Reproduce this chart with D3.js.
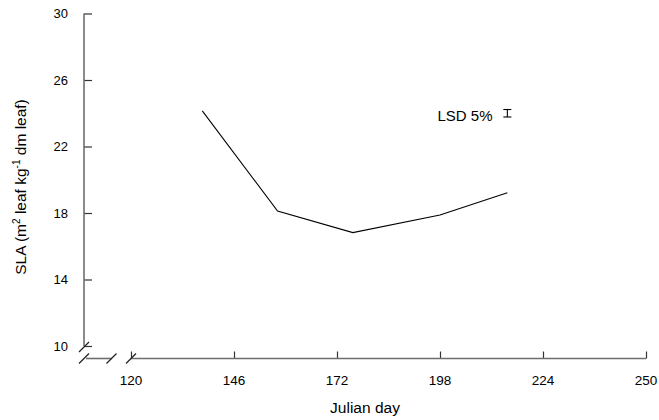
<!DOCTYPE html>
<html>
<head>
<meta charset="utf-8">
<script src="https://cdn.jsdelivr.net/npm/d3@7"></script>
<style>
  html, body { margin: 0; padding: 0; background: #fff; }
  svg text { font-family: "Liberation Sans", Arial, sans-serif; fill: #000; }
</style>
</head>
<body>
<svg id="chart" width="659" height="420"></svg>
<script>
// Specific leaf area over the season
const days = [138, 157, 176, 198, 215];
const sla = [24.14, 18.12, 16.82, 17.88, 19.22];
const xTicks = [120, 146, 172, 198, 224, 250];
const yTicks = [10, 14, 18, 22, 26, 30];
const lsdDay = 215;
const lsdCentre = 24.0;
const lsdValue = 0.45;
const lsdLabel = "LSD 5%";

const svg = d3.select("#chart");
const axisColor = "#6e6e6e";

const x = d3.scaleLinear().domain([120, 250]).range([131, 646]);
const y = d3.scaleLinear().domain([10, 30]).range([346, 13.5]);

const axisY = 84;      // x position of the vertical axis
const baseY = 358.5;   // y position of the horizontal axis

// Vertical axis
const yAxis = svg.append("g").attr("transform", `translate(${axisY},0)`)
  .call(d3.axisRight(y).tickValues(yTicks).tickSize(8).tickFormat(""));
yAxis.select(".domain").remove();
yAxis.selectAll(".tick line").attr("stroke", "#333").attr("stroke-width", 1.2);
svg.append("line").attr("x1", axisY).attr("x2", axisY)
  .attr("y1", y(30)).attr("y2", y(10))
  .attr("stroke", axisColor).attr("stroke-width", 1.6);
svg.selectAll(".ylab").data(yTicks).join("text")
  .attr("x", 68).attr("y", d => y(d)).attr("dy", "0.35em")
  .attr("text-anchor", "end").attr("font-size", 13).text(d => d);

// Horizontal axis
const xAxis = svg.append("g").attr("transform", `translate(0,${baseY})`)
  .call(d3.axisTop(x).tickValues(xTicks).tickSize(7).tickFormat(""));
xAxis.select(".domain").remove();
xAxis.selectAll(".tick line").attr("stroke", "#333").attr("stroke-width", 1.2);
svg.append("line").attr("x1", x(120)).attr("x2", x(250))
  .attr("y1", baseY).attr("y2", baseY)
  .attr("stroke", axisColor).attr("stroke-width", 1.6);
// short broken segment before the origin
svg.append("line").attr("x1", axisY + 2).attr("x2", 112)
  .attr("y1", baseY).attr("y2", baseY)
  .attr("stroke", axisColor).attr("stroke-width", 1.6);
svg.selectAll(".xlab").data(xTicks).join("text")
  .attr("x", d => x(d)).attr("y", 385)
  .attr("text-anchor", "middle").attr("font-size", 13.5).text(d => d);

// Break marks
const breaks = [
  [axisY, y(10) + 1],
  [axisY, baseY],
  [111.5, baseY],
  [131, baseY]
];
svg.selectAll(".brk").data(breaks).join("line")
  .attr("x1", d => d[0] - 5).attr("y1", d => d[1] + 5)
  .attr("x2", d => d[0] + 5).attr("y2", d => d[1] - 5)
  .attr("stroke", "#222").attr("stroke-width", 1.2);

// Axis titles
svg.append("text").attr("x", 365).attr("y", 413)
  .attr("text-anchor", "middle").attr("font-size", 15.5).text("Julian day");
const yt = svg.append("text")
  .attr("transform", "translate(26,187) rotate(-90)")
  .attr("text-anchor", "middle").attr("font-size", 15.5);
yt.append("tspan").text("SLA (m");
yt.append("tspan").attr("font-size", 10).attr("dy", -6).text("2");
yt.append("tspan").attr("dy", 6).text(" leaf kg");
yt.append("tspan").attr("font-size", 10).attr("dy", -6).text("-1");
yt.append("tspan").attr("dy", 6).text(" dm leaf)");

// Data line
const line = d3.line().x((d, i) => x(days[i])).y(d => y(d));
svg.append("path").datum(sla).attr("d", line)
  .attr("fill", "none").attr("stroke", "#000").attr("stroke-width", 1.1);

// LSD bar
const lx = x(lsdDay);
const lTop = y(lsdCentre + lsdValue / 2), lBot = y(lsdCentre - lsdValue / 2);
const lsd = svg.append("g").attr("stroke", "#000").attr("stroke-width", 1.1);
lsd.append("line").attr("x1", lx).attr("x2", lx).attr("y1", lTop).attr("y2", lBot);
lsd.append("line").attr("x1", lx - 4).attr("x2", lx + 4).attr("y1", lTop).attr("y2", lTop);
lsd.append("line").attr("x1", lx - 4).attr("x2", lx + 4).attr("y1", lBot).attr("y2", lBot);
svg.append("text").attr("x", 492.5).attr("y", 120.5)
  .attr("text-anchor", "end").attr("font-size", 15).text(lsdLabel);
</script>
</body>
</html>
